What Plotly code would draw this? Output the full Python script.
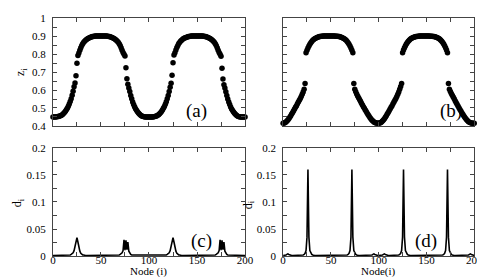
import plotly.graph_objects as go

# ---------------- data ----------------
z_a = [
    0.450, 0.450, 0.450, 0.450, 0.451, 0.452, 0.453, 0.455, 0.457, 0.460,
    0.464, 0.469, 0.475, 0.482, 0.490, 0.499, 0.510, 0.522, 0.536, 0.552,
    0.571, 0.594, 0.618, 0.640, 0.680, 0.750, 0.792, 0.806, 0.822, 0.836,
    0.848, 0.858, 0.866, 0.872, 0.877, 0.882, 0.886, 0.889, 0.892, 0.894,
    0.896, 0.898, 0.899, 0.900, 0.901, 0.901, 0.902, 0.902, 0.902, 0.902,
    0.902, 0.902, 0.902, 0.902, 0.902, 0.901, 0.901, 0.900, 0.899, 0.898,
    0.896, 0.894, 0.892, 0.889, 0.886, 0.882, 0.877, 0.872, 0.866, 0.858,
    0.848, 0.836, 0.822, 0.810, 0.800, 0.790, 0.725, 0.663, 0.632, 0.612,
    0.592, 0.570, 0.551, 0.534, 0.520, 0.507, 0.496, 0.487, 0.479, 0.472,
    0.466, 0.461, 0.457, 0.454, 0.452, 0.451, 0.450, 0.450, 0.450, 0.450,
    0.450, 0.450, 0.450, 0.450, 0.450, 0.451, 0.452, 0.454, 0.456, 0.459,
    0.463, 0.468, 0.474, 0.481, 0.489, 0.498, 0.509, 0.521, 0.535, 0.551,
    0.570, 0.592, 0.615, 0.638, 0.683, 0.752, 0.795, 0.808, 0.823, 0.837,
    0.849, 0.859, 0.867, 0.873, 0.878, 0.883, 0.887, 0.890, 0.892, 0.894,
    0.896, 0.898, 0.899, 0.900, 0.901, 0.901, 0.902, 0.902, 0.902, 0.902,
    0.902, 0.902, 0.902, 0.902, 0.902, 0.901, 0.901, 0.900, 0.899, 0.898,
    0.896, 0.894, 0.892, 0.889, 0.886, 0.882, 0.877, 0.872, 0.866, 0.858,
    0.848, 0.836, 0.822, 0.810, 0.800, 0.788, 0.722, 0.662, 0.630, 0.612,
    0.590, 0.569, 0.550, 0.533, 0.519, 0.506, 0.495, 0.486, 0.478, 0.471,
    0.465, 0.460, 0.456, 0.453, 0.451, 0.450, 0.450, 0.450, 0.450, 0.450,
    0.450,
]

z_b = [
    0.415, 0.416, 0.418, 0.422, 0.427, 0.433, 0.440, 0.448, 0.457, 0.466,
    0.475, 0.485, 0.494, 0.504, 0.513, 0.523, 0.533, 0.543, 0.553, 0.564,
    0.576, 0.589, 0.605, 0.636,
    0.808, 0.822, 0.835, 0.846, 0.856, 0.864, 0.871, 0.877, 0.882, 0.886,
    0.889, 0.892, 0.894, 0.896, 0.898, 0.899, 0.900,
    0.900, 0.901, 0.901, 0.901, 0.901, 0.902, 0.902, 0.902, 0.902, 0.902,
    0.901, 0.901, 0.901, 0.901, 0.900, 0.900, 0.900,
    0.899, 0.898, 0.896, 0.894, 0.892, 0.889, 0.886, 0.882, 0.877, 0.871,
    0.864, 0.856, 0.846, 0.835, 0.822, 0.808,
    0.636, 0.605, 0.590, 0.578, 0.567, 0.557, 0.547, 0.537, 0.527, 0.517,
    0.507, 0.498, 0.489, 0.480, 0.471, 0.462, 0.454, 0.446, 0.439, 0.432,
    0.427, 0.422, 0.419, 0.417, 0.416, 0.415, 0.415,
    0.416, 0.418, 0.422, 0.427, 0.433, 0.440, 0.448, 0.457, 0.466, 0.475,
    0.485, 0.494, 0.504, 0.513, 0.523, 0.533, 0.543, 0.553, 0.564, 0.576,
    0.589, 0.605, 0.620, 0.636,
    0.808, 0.823, 0.836, 0.847, 0.857, 0.865, 0.872, 0.878, 0.883, 0.887,
    0.890, 0.893, 0.895, 0.897, 0.898, 0.899, 0.900,
    0.900, 0.901, 0.901, 0.901, 0.902, 0.902, 0.902, 0.902, 0.902, 0.901,
    0.901, 0.901, 0.900, 0.900,
    0.900, 0.899, 0.898, 0.897, 0.895, 0.893, 0.890, 0.887, 0.883, 0.878,
    0.872, 0.865, 0.857, 0.847, 0.836, 0.823, 0.808,
    0.636, 0.605, 0.592, 0.581, 0.571, 0.561, 0.551, 0.541, 0.531, 0.521,
    0.511, 0.501, 0.492, 0.483, 0.474, 0.465, 0.457, 0.449, 0.442, 0.435,
    0.429, 0.424, 0.420, 0.418, 0.416, 0.415, 0.415, 0.415,
]

d_c = [
    0.001, 0.001, 0.001, 0.001, 0.001, 0.001, 0.001, 0.001, 0.001, 0.001,
    0.001, 0.001, 0.001, 0.001, 0.001, 0.001, 0.001, 0.002, 0.002, 0.003,
    0.004, 0.006, 0.010, 0.017, 0.027, 0.034, 0.026, 0.016, 0.009, 0.005,
    0.003, 0.002, 0.002, 0.001, 0.001, 0.001, 0.001, 0.001, 0.001, 0.001,
    0.001, 0.001, 0.001, 0.001, 0.001, 0.001, 0.001, 0.001, 0.001, 0.001,
    0.001, 0.001, 0.001, 0.001, 0.001, 0.001, 0.001, 0.001, 0.001, 0.001,
    0.001, 0.001, 0.001, 0.001, 0.001, 0.001, 0.001, 0.001, 0.002, 0.002,
    0.003, 0.004, 0.006, 0.010, 0.030, 0.011, 0.029, 0.012, 0.026, 0.009,
    0.005, 0.003, 0.002, 0.002, 0.001, 0.001, 0.001, 0.001, 0.001, 0.001,
    0.001, 0.001, 0.001, 0.001, 0.001, 0.001, 0.001, 0.001, 0.001, 0.001,
    0.001, 0.001, 0.001, 0.001, 0.001, 0.001, 0.001, 0.001, 0.001, 0.001,
    0.001, 0.001, 0.001, 0.001, 0.001, 0.001, 0.001, 0.002, 0.002, 0.003,
    0.004, 0.006, 0.010, 0.017, 0.027, 0.034, 0.026, 0.016, 0.009, 0.005,
    0.003, 0.002, 0.002, 0.001, 0.001, 0.001, 0.001, 0.001, 0.001, 0.001,
    0.001, 0.001, 0.001, 0.001, 0.001, 0.001, 0.001, 0.001, 0.001, 0.001,
    0.001, 0.001, 0.001, 0.001, 0.001, 0.001, 0.001, 0.001, 0.001, 0.001,
    0.001, 0.001, 0.001, 0.001, 0.001, 0.001, 0.001, 0.001, 0.002, 0.002,
    0.003, 0.004, 0.006, 0.010, 0.030, 0.011, 0.029, 0.012, 0.026, 0.009,
    0.005, 0.003, 0.002, 0.002, 0.001, 0.001, 0.001, 0.001, 0.001, 0.001,
    0.001, 0.001, 0.001, 0.001, 0.001, 0.001, 0.001, 0.001, 0.001, 0.001,
    0.001,
]

d_d = [
    0.001, 0.001, 0.001, 0.002, 0.003, 0.004, 0.003, 0.002, 0.001, 0.001,
    0.001, 0.001, 0.001, 0.001, 0.001, 0.001, 0.001, 0.001, 0.001, 0.001,
    0.001, 0.002, 0.003, 0.005, 0.010, 0.035, 0.160, 0.035, 0.010, 0.005,
    0.003, 0.002, 0.001, 0.001, 0.001, 0.001, 0.001, 0.001, 0.001, 0.001,
    0.001, 0.001, 0.001, 0.001, 0.001, 0.001, 0.001, 0.001, 0.001, 0.001,
    0.001, 0.001, 0.001, 0.001, 0.001, 0.001, 0.001, 0.001, 0.001, 0.001,
    0.001, 0.001, 0.001, 0.001, 0.001, 0.001, 0.001, 0.002, 0.003, 0.005,
    0.010, 0.035, 0.160, 0.035, 0.010, 0.005, 0.003, 0.002, 0.001, 0.001,
    0.001, 0.001, 0.001, 0.001, 0.001, 0.001, 0.001, 0.001, 0.001, 0.001,
    0.001, 0.001, 0.001, 0.002, 0.003, 0.004, 0.003, 0.002, 0.001, 0.001,
    0.001, 0.001, 0.001, 0.001, 0.002, 0.003, 0.004, 0.003, 0.002, 0.001,
    0.001, 0.001, 0.001, 0.001, 0.001, 0.001, 0.001, 0.001, 0.001, 0.001,
    0.001, 0.002, 0.003, 0.005, 0.010, 0.035, 0.160, 0.035, 0.010, 0.005,
    0.003, 0.002, 0.001, 0.001, 0.001, 0.001, 0.001, 0.001, 0.001, 0.001,
    0.001, 0.001, 0.001, 0.001, 0.001, 0.001, 0.001, 0.001, 0.001, 0.001,
    0.001, 0.001, 0.001, 0.001, 0.001, 0.001, 0.001, 0.001, 0.001, 0.001,
    0.001, 0.001, 0.001, 0.001, 0.001, 0.001, 0.001, 0.002, 0.003, 0.005,
    0.010, 0.035, 0.160, 0.035, 0.010, 0.005, 0.003, 0.002, 0.001, 0.001,
    0.001, 0.001, 0.001, 0.001, 0.001, 0.001, 0.001, 0.001, 0.001, 0.001,
    0.001, 0.001, 0.001, 0.001, 0.002, 0.003, 0.004, 0.003, 0.002, 0.001,
    0.001,
]

x_tick_vals = [0, 50, 100, 150, 200]
x_tick_text = ["0", "50", "100", "150", "200"]
z_tick_vals = [0.4, 0.5, 0.6, 0.7, 0.8, 0.9, 1.0]
z_tick_text = ["0.4", "0.5", "0.6", "0.7", "0.8", "0.9", "1"]
d_tick_vals = [0, 0.05, 0.1, 0.15, 0.2]
d_tick_text = ["0", "0.05", "0.1", "0.15", "0.2"]

panel_labels = ["(a)", "(b)", "(c)", "(d)"]

# ---------------- figure ----------------
W, H = 485, 277
FONT = "Liberation Serif"
AX = "#444444"

def px_x(p):
    return p / W

def px_y(p):
    return 1 - p / H

dom_left = [px_x(43), px_x(240)]
dom_right = [px_x(279), px_x(475)]
dom_top = [px_y(117), px_y(4.5)]
dom_bot = [px_y(253), px_y(140)]


def xax(domain, labels, anchor):
    return dict(
        domain=domain, range=[0, 200], anchor=anchor,
        tickmode="array", tickvals=x_tick_vals, ticktext=x_tick_text,
        showticklabels=labels,
        ticks="inside", ticklen=4, tickwidth=1, tickcolor=AX,
        minor=dict(ticks="inside", dtick=25, tick0=0, ticklen=4, tickwidth=1, tickcolor=AX),
        showline=True, linecolor=AX, linewidth=1, mirror="ticks",
        showgrid=False, zeroline=False,
        tickfont=dict(family=FONT, size=11, color="black"),
        ticklabelstandoff=-6,
    )


def yax(domain, rng, vals, text, minor_dt, labels, anchor):
    return dict(
        domain=domain, range=rng, anchor=anchor,
        tickmode="array", tickvals=vals, ticktext=text,
        showticklabels=labels,
        ticks="inside", ticklen=4, tickwidth=1, tickcolor=AX,
        minor=dict(ticks="inside", dtick=minor_dt, tick0=0, ticklen=4, tickwidth=1, tickcolor=AX),
        showline=True, linecolor=AX, linewidth=1, mirror="ticks",
        showgrid=False, zeroline=False,
        tickfont=dict(family=FONT, size=11, color="black"),
        ticklabelstandoff=4,
    )


nodes_a = list(range(len(z_a)))
nodes_b = list(range(len(z_b)))
nodes_c = list(range(len(d_c)))
nodes_d = list(range(len(d_d)))

fig = go.Figure()
mk = dict(color="black", size=5.5)
fig.add_trace(go.Scatter(x=nodes_a, y=z_a, mode="markers", marker=mk,
                         xaxis="x", yaxis="y", cliponaxis=False, showlegend=False))
fig.add_trace(go.Scatter(x=nodes_b, y=z_b, mode="markers", marker=mk,
                         xaxis="x2", yaxis="y2", cliponaxis=False, showlegend=False))
fig.add_trace(go.Scatter(x=nodes_c, y=d_c, mode="lines", line=dict(color="black", width=1.6),
                         xaxis="x3", yaxis="y3", showlegend=False))
fig.add_trace(go.Scatter(x=nodes_d, y=d_d, mode="lines", line=dict(color="black", width=1.6),
                         xaxis="x4", yaxis="y4", showlegend=False))

annos = []
label_pos = [(190, 101), (451, 101), (195, 237), (426, 237)]
for t, (lx, ly) in zip(panel_labels, label_pos):
    annos.append(dict(text=t, x=px_x(lx), y=px_y(ly), xref="paper", yref="paper",
                      showarrow=False, xanchor="center", yanchor="middle",
                      font=dict(family=FONT, size=19, color="black")))

annos.append(dict(text="z<sub>i</sub>", x=px_x(11), y=px_y(61), xref="paper", yref="paper",
                  showarrow=False, textangle=-90, xanchor="center", yanchor="middle",
                  font=dict(family=FONT, size=12, color="black")))
annos.append(dict(text="d<sub>i</sub>", x=px_x(8), y=px_y(197), xref="paper", yref="paper",
                  showarrow=False, textangle=-90, xanchor="center", yanchor="middle",
                  font=dict(family=FONT, size=12, color="black")))
annos.append(dict(text="d<sub>i</sub>", x=px_x(244), y=px_y(199), xref="paper", yref="paper",
                  showarrow=False, textangle=-90, xanchor="center", yanchor="middle",
                  font=dict(family=FONT, size=12, color="black")))
annos.append(dict(text="Node (i)", x=px_x(141), y=0, xref="paper", yref="paper",
                  showarrow=False, xanchor="center", yanchor="bottom", borderpad=0,
                  font=dict(family=FONT, size=11, color="black")))
annos.append(dict(text="Node(i)", x=px_x(377), y=0, xref="paper", yref="paper",
                  showarrow=False, xanchor="center", yanchor="bottom", borderpad=0,
                  font=dict(family=FONT, size=11, color="black")))

fig.update_layout(
    width=W, height=H,
    margin=dict(l=0, r=0, t=0, b=0),
    paper_bgcolor="white", plot_bgcolor="white",
    font=dict(family=FONT, size=11, color="black"),
    xaxis=xax(dom_left, False, "y"),
    yaxis=yax(dom_top, [0.4, 1.0], z_tick_vals, z_tick_text, 0.05, True, "x"),
    xaxis2=xax(dom_right, False, "y2"),
    yaxis2=yax(dom_top, [0.4, 1.0], z_tick_vals, z_tick_text, 0.05, False, "x2"),
    xaxis3=xax(dom_left, True, "y3"),
    yaxis3=yax(dom_bot, [0, 0.2], d_tick_vals, d_tick_text, 0.025, True, "x3"),
    xaxis4=xax(dom_right, True, "y4"),
    yaxis4=yax(dom_bot, [0, 0.2], d_tick_vals, d_tick_text, 0.025, True, "x4"),
    annotations=annos,
)

fig.write_html("out.html")
